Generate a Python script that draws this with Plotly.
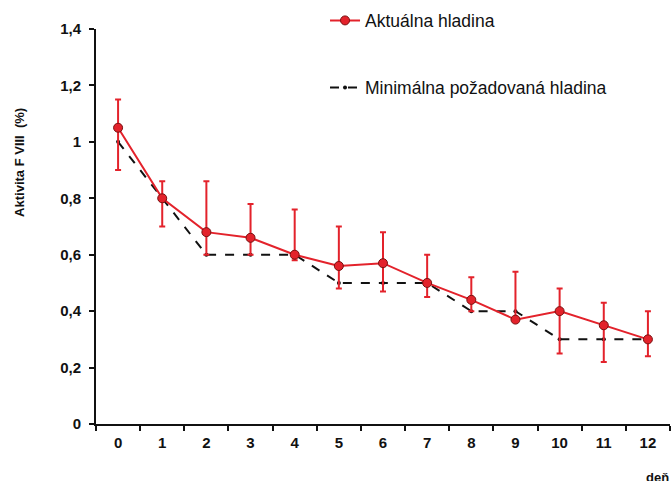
import plotly.graph_objects as go

days = [str(i) for i in range(13)]
actual = [1.05, 0.80, 0.68, 0.66, 0.60, 0.56, 0.57, 0.50, 0.44, 0.37, 0.40, 0.35, 0.30]
err_upper = [1.15, 0.86, 0.86, 0.78, 0.76, 0.70, 0.68, 0.60, 0.52, 0.54, 0.48, 0.43, 0.40]
err_lower = [0.90, 0.70, 0.60, 0.60, 0.58, 0.48, 0.47, 0.45, 0.40, 0.365, 0.25, 0.22, 0.24]
minimum = [1.0, 0.8, 0.6, 0.6, 0.6, 0.5, 0.5, 0.5, 0.4, 0.4, 0.3, 0.3, 0.3]

plus = [u - a for u, a in zip(err_upper, actual)]
minus = [a - l for a, l in zip(actual, err_lower)]

RED = "#e3222b"
FONT = "Liberation Sans, Arial, sans-serif"

fig = go.Figure()
fig.add_trace(go.Scatter(
    x=days, y=minimum, mode="lines+markers", name="Minimálna požadovaná hladina",
    line=dict(color="#111111", width=2, dash="dash"),
    marker=dict(color="#111111", size=4),
    legend="legend2",
))
fig.add_trace(go.Scatter(
    x=days, y=actual, mode="lines+markers", name="Aktuálna hladina",
    line=dict(color=RED, width=2),
    marker=dict(color=RED, size=9, line=dict(color="#7a1010", width=1)),
    error_y=dict(type="data", symmetric=False, array=plus, arrayminus=minus,
                 color=RED, thickness=2, width=3),
    legend="legend",
))

fig.update_layout(
    width=672, height=481,
    margin=dict(l=96, r=2, t=29, b=57, autoexpand=False),
    paper_bgcolor="white", plot_bgcolor="white",
    separators=", ",
    showlegend=True,
    font=dict(family=FONT, color="#111111"),
    legend=dict(x=0.399, y=1.067, xanchor="left", yanchor="top", visible=True,
                font=dict(size=17.5, family=FONT), bgcolor="rgba(0,0,0,0)"),
    legend2=dict(x=0.399, y=0.897, xanchor="left", yanchor="top", visible=True,
                 font=dict(size=17.5, family=FONT), bgcolor="rgba(0,0,0,0)"),
    xaxis=dict(type="category", tickson="boundaries", ticks="outside", ticklen=5,
               tickwidth=2, tickcolor="#111111", showline=True, linewidth=2,
               linecolor="#111111", showgrid=False, zeroline=False,
               ticklabelstandoff=4,
               tickfont=dict(size=15, family=FONT, weight="bold"),
               range=[-0.5, 12.5]),
    yaxis=dict(range=[0, 1.4], dtick=0.2, ticks="outside", ticklen=5, tickwidth=2,
               tickcolor="#111111", showline=True, linewidth=2, linecolor="#111111",
               showgrid=False, zeroline=False, ticklabelstandoff=5,
               tickfont=dict(size=15, family=FONT, weight="bold")),
    annotations=[
        dict(text="<b>Aktivita F VIII  (%)</b>", xref="paper", yref="paper",
             x=-0.1324, y=0.661, textangle=-90, showarrow=False,
             xanchor="center", yanchor="middle", font=dict(size=13, family=FONT)),
        dict(text="<b>deň</b>", xref="paper", yref="paper", x=1.002, y=-0.111,
             xanchor="right", yanchor="top", showarrow=False,
             font=dict(size=13, family=FONT)),
    ],
)

fig.write_html("out.html", config={"displayModeBar": False},
               post_script="document.body.style.margin='0';")
